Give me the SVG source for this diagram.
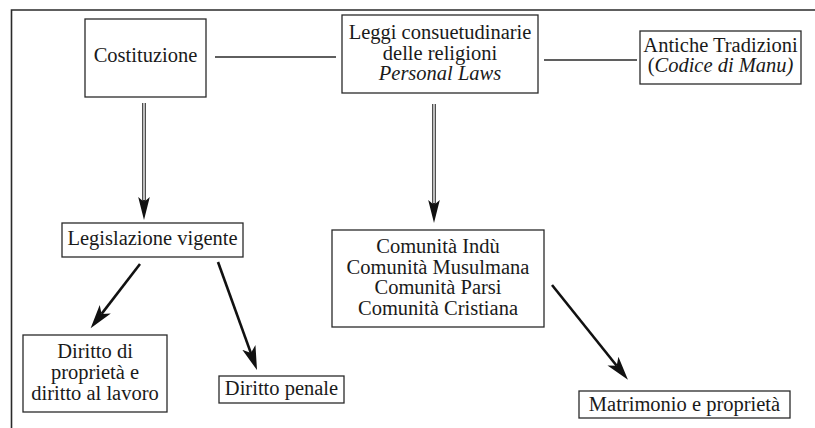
<svg xmlns="http://www.w3.org/2000/svg" width="815" height="428" viewBox="0 0 815 428">
<style>
  .box { fill: #ffffff; stroke: #2a2a2a; stroke-width: 1.3; }
  .t { font-family: "Liberation Serif", "Times New Roman", serif; font-size: 20.5px; fill: #1a1a1a; text-anchor: middle; }
  .it { font-style: italic; }
  .frame { fill: none; stroke: #2a2a2a; stroke-width: 1.6; }
  .link { fill: none; stroke: #2a2a2a; stroke-width: 1.3; }
  .arrow { fill: none; stroke: #111; stroke-width: 2.6; marker-end: url(#head); }
  .dbl { fill: none; stroke: #222; stroke-width: 3.6; marker-end: url(#dhead); }
  .dblin { fill: none; stroke: #ffffff; stroke-width: 1.4; }
</style>
<defs>
  <marker id="head" markerUnits="userSpaceOnUse" markerWidth="30" markerHeight="20" viewBox="0 -10 30 20" refX="6" refY="0" orient="auto">
    <path d="M24,0 L0,-7 L6,0 L0,7 Z" fill="#111"/>
  </marker>
  <marker id="dhead" markerUnits="userSpaceOnUse" markerWidth="30" markerHeight="20" viewBox="0 -10 30 20" refX="5" refY="0" orient="auto">
    <path d="M23,0 L0,-5.8 L5,0 L0,5.8 Z" fill="#111"/>
  </marker>
</defs>

<g id="frame">
  <path class="frame" d="M11.5,428 L11.5,10 L815,10"/>
</g>

<g id="connectors">
  <line class="link" x1="215" y1="57" x2="336" y2="57"/>
  <line class="link" x1="544" y1="60" x2="637" y2="60"/>
  <line class="dbl" x1="144" y1="103" x2="144" y2="202"/>
  <line class="dblin" x1="144" y1="103" x2="144" y2="200"/>
  <line class="dbl" x1="434" y1="104" x2="434" y2="205"/>
  <line class="dblin" x1="434" y1="104" x2="434" y2="203"/>
  <line class="arrow" x1="140" y1="264" x2="101.6" y2="313.9"/>
  <line class="arrow" x1="218" y1="262" x2="250.9" y2="353.1"/>
  <line class="arrow" x1="552" y1="285" x2="616.7" y2="365.8"/>
</g>

<g id="costituzione">
  <rect class="box" x="85" y="19" width="121" height="78"/>
  <text class="t" x="145.5" y="62">Costituzione</text>
</g>

<g id="leggi">
  <rect class="box" x="342" y="15" width="196" height="78"/>
  <text class="t" x="440" y="39">Leggi consuetudinarie</text>
  <text class="t" x="440" y="59.5">delle religioni</text>
  <text class="t it" x="440" y="80">Personal Laws</text>
</g>

<g id="antiche">
  <rect class="box" x="640" y="31" width="161" height="53"/>
  <text class="t" x="720.5" y="51.5">Antiche Tradizioni</text>
  <text class="t" x="720.5" y="72">(<tspan class="it">Codice di Manu)</tspan></text>
</g>

<g id="legislazione">
  <rect class="box" x="62" y="223" width="181" height="34"/>
  <text class="t" x="152.5" y="245">Legislazione vigente</text>
</g>

<g id="diritto-proprieta">
  <rect class="box" x="23" y="335" width="144" height="77"/>
  <text class="t" x="95" y="358">Diritto di</text>
  <text class="t" x="95" y="379">proprietà e</text>
  <text class="t" x="95" y="400">diritto al lavoro</text>
</g>

<g id="diritto-penale">
  <rect class="box" x="219" y="376" width="125" height="27"/>
  <text class="t" x="281.5" y="395">Diritto penale</text>
</g>

<g id="comunita">
  <rect class="box" x="332" y="230" width="212" height="97"/>
  <text class="t" x="438" y="253">Comunità Indù</text>
  <text class="t" x="438" y="273.5">Comunità Musulmana</text>
  <text class="t" x="438" y="294">Comunità Parsi</text>
  <text class="t" x="438" y="314.5">Comunità Cristiana</text>
</g>

<g id="matrimonio">
  <rect class="box" x="579" y="391" width="211" height="27"/>
  <text class="t" x="684.5" y="411">Matrimonio e proprietà</text>
</g>
</svg>
